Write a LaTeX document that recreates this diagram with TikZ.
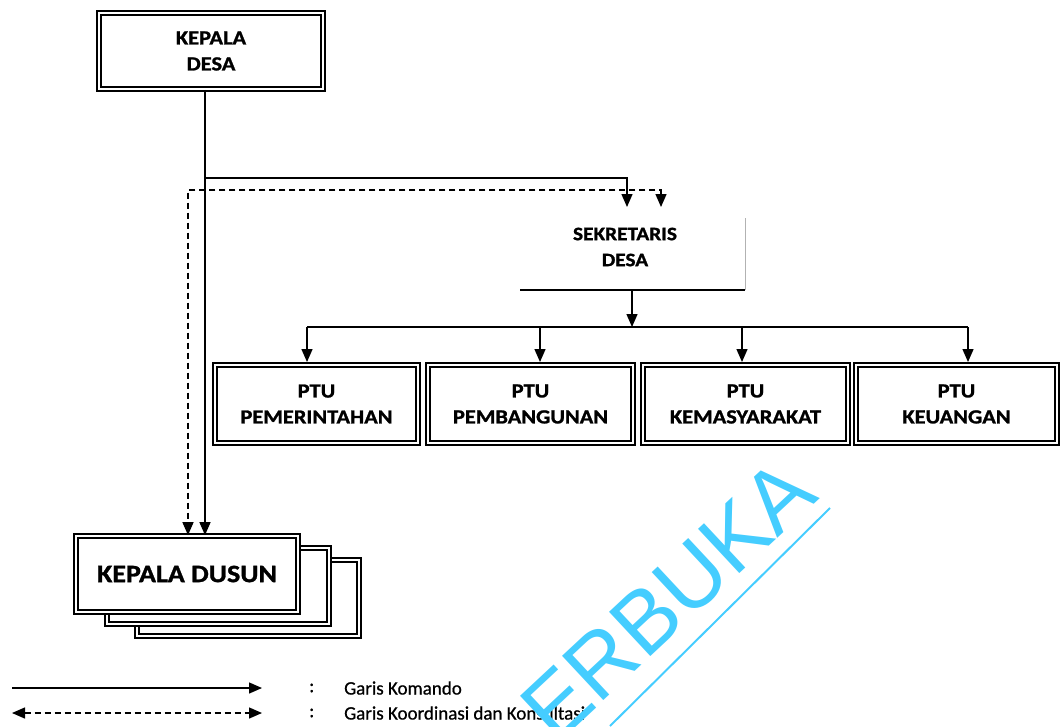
\documentclass[tikz,border=0pt]{standalone}
\usepackage{fontspec}
\setmainfont{Carlito}
\newfontfamily\boxfont[FakeStretch=1.12, FakeBold=1.2]{Carlito Bold}
\newfontfamily\legfont[FakeBold=0.8]{Carlito}
\newfontfamily\wmfont{Liberation Sans}
\usetikzlibrary{arrows.meta}
\definecolor{wmcyan}{HTML}{45CDFF}
\begin{document}
\begin{tikzpicture}[x=1pt,y=-1pt,
  dbox/.style={draw, fill=white, line width=1.7pt, double=white, double distance=2.4pt,
    inner sep=0pt, align=center, font=\boxfont\fontsize{20}{26}\selectfont},
  cmd/.style={line width=1.4pt, -{Triangle[width=11pt,length=13pt]}},
  crd/.style={line width=1.4pt, dash pattern=on 6pt off 4pt, {Triangle[width=11pt,length=13pt]}-{Triangle[width=11pt,length=13pt]}},
  lbl/.style={inner sep=0pt, align=center, font=\boxfont\fontsize{19}{26}\selectfont},
  leg/.style={inner sep=0pt, anchor=west, font=\legfont\fontsize{19}{22}\selectfont}
]
\useasboundingbox (0,0) rectangle (1062,726);
\clip (0,0) rectangle (1062,726);

% Kepala Desa
\node[dbox, minimum width=224, minimum height=76] (kdesa) at (211,51) {KEPALA\\DESA};

% Sekretaris Desa
\node[lbl] (sek) at (625,247) {SEKRETARIS\\DESA};
\coordinate (sekbl) at (520,290);
\coordinate (sekbr) at (745,290);
\coordinate (sektr) at (745,218);
\draw[line width=1.3pt] (sekbl) -- (sekbr);
\draw[line width=0.5pt, gray!60] (sekbr) -- (sektr);
\coordinate (sekout) at (632,290);

% PTU boxes
\node[dbox, minimum width=203, minimum height=78] (ptu1) at (316.5,404) {PTU\\PEMERINTAHAN};
\node[dbox, minimum width=205, minimum height=78] (ptu2) at (530.5,404) {PTU\\PEMBANGUNAN};
\node[dbox, minimum width=205, minimum height=78] (ptu3) at (745.5,404) {PTU\\KEMASYARAKAT};
\node[dbox, minimum width=201, minimum height=78] (ptu4) at (956.5,404) {PTU\\KEUANGAN};

% Kepala Dusun stack
\node[dbox, minimum width=222, minimum height=76] (dusun3) at (248,598) {};
\node[dbox, minimum width=222, minimum height=76] (dusun2) at (218,586) {};
\node[dbox, minimum width=222, minimum height=76, font=\boxfont\fontsize{25}{30}\selectfont] (dusun1) at (187,574) {KEPALA DUSUN};

% command lines
\coordinate (j1) at (205,178);
\coordinate (sa) at (627,207);
\coordinate (sb) at (661,207);
\draw[cmd] ([xshift=-6pt]kdesa.south) -- ([xshift=18pt]dusun1.north);
\draw[cmd] (j1) -| (sa);
\draw[crd] (sb) |- (188,190) -- ([xshift=1pt]dusun1.north);

\coordinate (hb) at (632,327);
\draw[cmd] (sekout) -- (hb);
\draw[line width=1.4pt] (307,327) -- (968,327);
\draw[cmd] (307,327) -- (307,362);
\draw[cmd] (540,327) -- (540,362);
\draw[cmd] (742,327) -- (742,362);
\draw[cmd] (968,327) -- (968,362);

% legend
\coordinate (la1) at (12,688);
\coordinate (la2) at (262,688);
\coordinate (lb1) at (12,713);
\coordinate (lb2) at (262,713);
\draw[cmd] (la1) -- (la2);
\draw[crd] (lb1) -- (lb2);
\node[leg] (c1) at (309,688) {:};
\node[leg] (t1) at (344,688) {Garis Komando};
\node[leg] (c2) at (309,713) {:};
\node[leg] (t2) at (344,713) {Garis Koordinasi dan Konsultasi};

% watermark
\node[text=wmcyan, rotate=43, inner sep=0pt, font=\wmfont\fontsize{88}{88}\selectfont] (wm) at (668,600) {ERBUKA};
\draw[wmcyan, line width=2pt] (610,726) -- (830,508);
\end{tikzpicture}
\end{document}
